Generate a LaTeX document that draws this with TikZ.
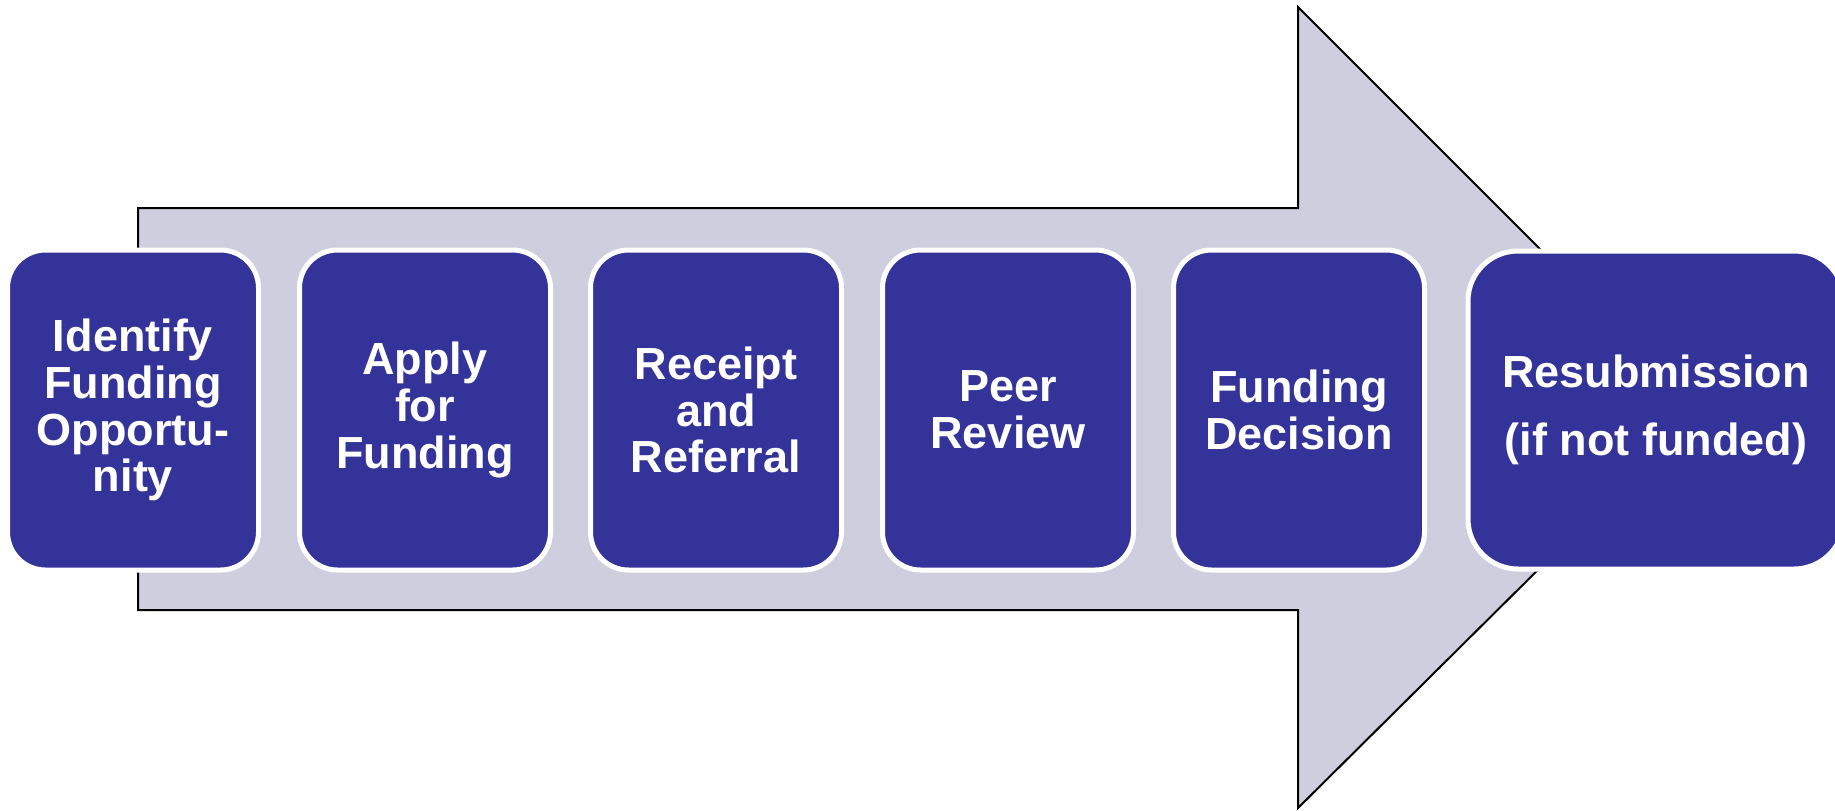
\documentclass[tikz,border=0pt]{standalone}
\usepackage{fontspec}
\setmainfont{Liberation Sans}
\definecolor{stepblue}{RGB}{51,51,153}
\definecolor{shaftgray}{RGB}{206,206,223}
\tikzset{
  stage/.style={draw=white, line width=2.5pt, fill=stepblue, text=white,
    rounded corners=19pt, minimum width=125.5pt, minimum height=160pt,
    align=center, inner sep=0pt, font=\bfseries\fontsize{22.5}{23.4}\selectfont},
  laststage/.style={stage, rounded corners=25pt, minimum width=188pt,
    minimum height=159pt, font=\bfseries\fontsize{22.5}{34}\selectfont}
}
\begin{document}
\begin{tikzpicture}[x=0.5pt,y=-0.5pt]
        \useasboundingbox (0,0) rectangle (1835,810);

        \draw[fill=shaftgray, line width=1pt] (138,208) -- (1298,208) -- (1298,7)
            -- (1700,409) -- (1298,808) -- (1298,610) -- (138,610) -- cycle;

        \node[stage] (s1) at (133, 410) {Identify\\Funding\\Opportu-\\nity};
        \node[stage] (s2) at (425, 410) {Apply\\for\\Funding};
        \node[stage] (s3) at (716, 410) {Receipt\\and\\Referral};
        \node[stage] (s4) at (1008, 410) {Peer\\Review};
        \node[stage] (s5) at (1299, 410) {Funding\\Decision};

        \node[laststage] (s6) at (1656, 410) {Resubmission\\(if not funded)};
    \end{tikzpicture}
\end{document}
